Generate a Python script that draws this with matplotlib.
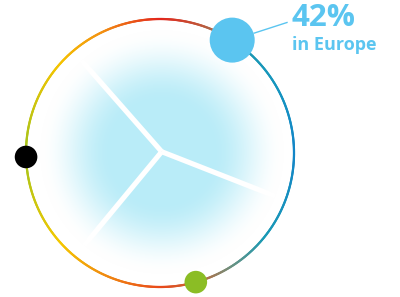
import numpy as np
import matplotlib
matplotlib.use("Agg")
import matplotlib.pyplot as plt
from matplotlib.collections import LineCollection
from matplotlib.colors import to_rgb
from matplotlib.patches import Circle

# ---- data ----
share_value = 42
share_label = "in Europe"
# markers on the ring: angle (deg, counter-clockwise from 3 o'clock), radius px, colour
marker_angles = [57.4, 181.7, -74.5]
marker_sizes = [22.5, 11.3, 11.3]
marker_colors = ["#5bc5f0", "#000000", "#8bbd25"]
# spokes inside the ring (deg)
spoke_angles = [131.3, 230.4, -21.4]
# ring colour stops: clockwise angle from 12 o'clock, colour
ring_stops = [0, 18, 30, 40, 60, 90, 130, 148, 163, 180, 205, 228, 270, 312, 335, 360]
ring_colors = ["#e3261c", "#c0583a", "#8a7d62", "#1c98b2", "#1596bf", "#1285c8",
               "#1a9ab5", "#6a9282", "#c06a3c", "#e9481a", "#f08c10", "#f5c800",
               "#a2c41c", "#f5c400", "#f39012", "#e3261c"]

W, H = 400, 297
cx, cy, R = 160.0, 153.0, 134.0

fig = plt.figure(figsize=(W / 100, H / 100), dpi=100)
ax = fig.add_axes([0, 0, 1, 1])
ax.set_xlim(0, W)
ax.set_ylim(H, 0)
ax.axis("off")

# radial glow
gx, gy = 162.0, 152.0
yy, xx = np.mgrid[0:H, 0:W] + 0.5
rr = np.hypot(xx - gx, yy - gy)
t = np.clip((122 - rr) / 72, 0, 1)
f = t * t * (3 - 2 * t)
base = np.array([185, 236, 248]) / 255.0
img = 1 - (1 - base)[None, None, :] * f[..., None]
ax.imshow(img, extent=(0, W, H, 0), interpolation="bilinear", zorder=0)

# spokes
sc = (161.7, 151.7)
for a in spoke_angles:
    ar = np.radians(a)
    ax.plot([sc[0], sc[0] + 122 * np.cos(ar)], [sc[1], sc[1] - 122 * np.sin(ar)],
            color="white", lw=3.7, solid_capstyle="butt", zorder=1)

# ring with gradient
n = 720
th = np.linspace(0, 360, n + 1)
rgb = np.array([to_rgb(c) for c in ring_colors])
cols = np.stack([np.interp((th[:-1] + th[1:]) / 2, ring_stops, rgb[:, k]) for k in range(3)], axis=1)
ang = np.radians(90 - th)
px = cx + R * np.cos(ang)
py = cy - R * np.sin(ang)
pts = np.stack([px, py], axis=1)
segs = np.stack([pts[:-1], pts[1:]], axis=1)
ax.add_collection(LineCollection(segs, colors=cols, linewidths=1.6, capstyle="round", zorder=2))

# markers
for a, s, c in zip(marker_angles, marker_sizes, marker_colors):
    ar = np.radians(a)
    ax.add_patch(Circle((cx + R * np.cos(ar), cy - R * np.sin(ar)), s, color=c, zorder=3, lw=0))

# label connector and text
ar = np.radians(marker_angles[0])
mx, my = cx + R * np.cos(ar), cy - R * np.sin(ar)
ax.plot([mx + 22, 287], [my - 7, 22.5], color="#5bc5f0", lw=1.0, zorder=2)
ax.text(291, 25.5, f"{share_value}%", color="#5bc5f0", fontsize=22.5, fontweight="bold",
        family="Open Sans", ha="left", va="baseline")
ax.text(292, 49.5, share_label, color="#5bc5f0", fontsize=13, fontweight="bold",
        family="Open Sans", ha="left", va="baseline")

fig.savefig("out.png", dpi=100)
